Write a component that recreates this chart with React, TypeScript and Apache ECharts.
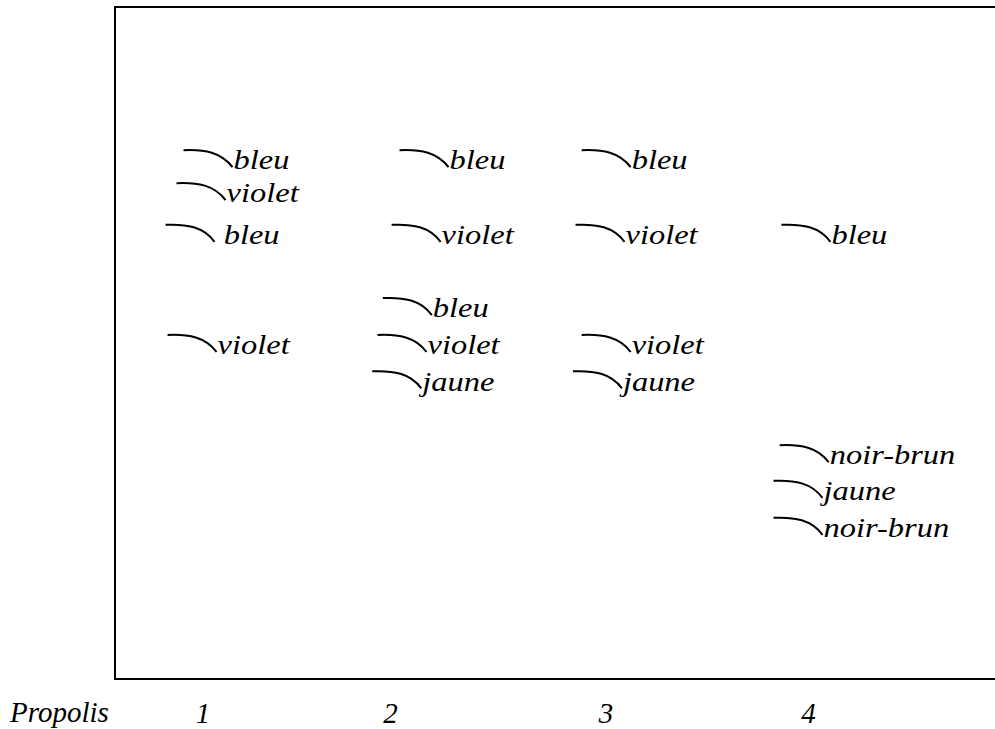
import React, { useEffect, useRef } from "react";
import * as echarts from "echarts";

// Lane (sample) labels and their positions along the plate (x, % of plate width)
const laneLabels = ["1", "2", "3", "4"];
const lanePositions = [10, 31.3, 55.8, 78.8];
const rowTitle = "Propolis";

// Spots: x = spot position (% of plate width), y = migration (% of plate height), label = colour
const spotX = [13.35, 12.56, 11.31, 11.54, 37.9, 37.0, 36.0, 35.4, 34.8, 58.6, 57.9, 58.6, 57.6, 81.3, 81.1, 80.4, 80.4];
const spotY = [77.2, 72.3, 66.1, 49.7, 77.2, 66.1, 55.2, 49.7, 44.3, 77.2, 66.1, 49.7, 44.3, 66.1, 33.3, 28.0, 22.5];
const spotLabels = [
  "bleu", "violet", " bleu", "violet",
  "bleu", "violet", "bleu", "violet", "jaune",
  "bleu", "violet", "violet", "jaune",
  "bleu", "noir-brun", "jaune", "noir-brun",
];

const FONT = "Liberation Serif";

export default function App() {
  const ref = useRef<HTMLDivElement>(null);
  useEffect(() => {
    if (!ref.current) return;
    const chart = echarts.init(ref.current, null, { renderer: "svg" });
    const data = spotX.map((x, i) => [x, spotY[i], i]);
    const line = { show: true, onZero: false, lineStyle: { color: "#000", width: 2 } };
    chart.setOption({
      animation: false,
      grid: {
        left: 115,
        top: 7,
        right: 0,
        bottom: 50,
      },
      xAxis: [
        {
          type: "value",
          min: 0,
          max: 100,
          position: "bottom",
          axisLine: line,
          axisTick: { show: false },
          splitLine: { show: false },
          axisLabel: {
            customValues: lanePositions,
            formatter: (v: number) => {
              const i = lanePositions.findIndex((p) => Math.abs(p - v) < 1e-6);
              return i >= 0 ? laneLabels[i] : "";
            },
            margin: 19,
            color: "#000",
            fontFamily: FONT,
            fontStyle: "italic",
            fontSize: 29,
          },
        },
        {
          type: "value",
          min: 0,
          max: 100,
          position: "top",
          axisLine: line,
          axisTick: { show: false },
          splitLine: { show: false },
          axisLabel: { show: false },
        },
      ],
      yAxis: {
        type: "value",
        min: 0,
        max: 100,
        axisLine: line,
        axisTick: { show: false },
        splitLine: { show: false },
        axisLabel: { show: false },
      },
      graphic: [
        {
          type: "text",
          left: 10,
          top: 697,
          style: {
            text: rowTitle,
            fill: "#000",
            fontFamily: FONT,
            fontStyle: "italic",
            fontSize: 29,
          },
        },
      ],
      series: [
        {
          type: "custom",
          clip: false,
          xAxisIndex: 0,
          data,
          renderItem: (params: any, api: any) => {
            const p = api.coord([api.value(0), api.value(1)]);
            const idx = api.value(2);
            return {
              type: "group",
              x: p[0],
              y: p[1],
              children: [
                {
                  type: "path",
                  shape: { pathData: "M-49,-10 C-28,-11 -11,-8 0,7" },
                  style: { stroke: "#000", lineWidth: 2, fill: "none" },
                },
                {
                  type: "text",
                  x: 1,
                  y: 0,
                  scaleX: 1.16,
                  style: {
                    text: spotLabels[idx],
                    fill: "#000",
                    fontFamily: FONT,
                    fontStyle: "italic",
                    fontSize: 28,
                    align: "left",
                    verticalAlign: "middle",
                  },
                },
              ],
            };
          },
        },
      ],
    });
    return () => chart.dispose();
  }, []);
  return (
    <div
      ref={ref}
      style={{ position: "fixed", left: 0, top: 0, width: 995, height: 729, background: "#fff" }}
    />
  );
}
